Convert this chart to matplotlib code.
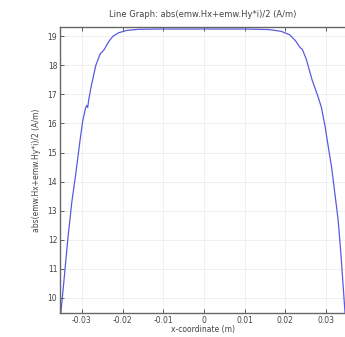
import numpy as np
import matplotlib.pyplot as plt

# curve
x_m = [-0.0352, -0.0345, -0.0335, -0.0325, -0.0315, -0.0305, -0.0298, -0.0291,
       -0.0288, -0.0286, -0.0283, -0.0277, -0.0266, -0.0255, -0.0251, -0.0245,
       -0.0235, -0.0224, -0.0210, -0.0190, -0.0160, -0.0100, 0.0, 0.0100,
       0.0160, 0.0190, 0.0211, 0.0225, 0.0236, 0.0242, 0.0252, 0.0266,
       0.0280, 0.0289, 0.0298, 0.0307, 0.0314, 0.0322, 0.0330, 0.0337,
       0.0342, 0.0347]
h_abs = [9.5, 10.5, 12.0, 13.3, 14.3, 15.4, 16.1, 16.55,
         16.62, 16.55, 16.85, 17.3, 18.0, 18.4, 18.45, 18.55,
         18.8, 19.0, 19.12, 19.2, 19.24, 19.25, 19.25, 19.25,
         19.23, 19.17, 19.05, 18.85, 18.62, 18.55, 18.2, 17.5,
         16.95, 16.55, 15.9, 15.1, 14.5, 13.6, 12.7, 11.5,
         10.5, 9.5]

xticks = [-0.03, -0.02, -0.01, 0, 0.01, 0.02, 0.03]
xtick_labels = ['-0.03', '-0.02', '-0.01', '0', '0.01', '0.02', '0.03']
yticks = [10, 11, 12, 13, 14, 15, 16, 17, 18, 19]

fig = plt.figure(figsize=(3.45, 3.37), dpi=100)
ax = fig.add_axes([0.174, 0.071, 0.826, 0.849])

ax.plot(x_m, h_abs, color='#5a5ae0', linewidth=0.9)

ax.set_xlim(-0.0354, 0.0347)
ax.set_ylim(9.48, 19.32)
ax.set_xticks(xticks)
ax.set_xticklabels(xtick_labels)
ax.set_yticks(yticks)

ax.grid(True, color='#eeeeee', linewidth=0.6)
ax.tick_params(direction='in', length=3, width=0.6, labelsize=5.5,
               colors='#444444', top=True, pad=2)
for side in ['left', 'bottom', 'top']:
    ax.spines[side].set_color('#666666')
    ax.spines[side].set_linewidth(1.0)
ax.spines['right'].set_visible(False)

ax.set_title('Line Graph: abs(emw.Hx+emw.Hy*i)/2 (A/m)', fontsize=6,
             color='#444444', pad=7)
ax.set_xlabel('x-coordinate (m)', fontsize=5.5, color='#444444', labelpad=0)
ax.set_ylabel('abs(emw.Hx+emw.Hy*i)/2 (A/m)', fontsize=5.5, color='#444444',
              labelpad=5)

fig.savefig('out.png', dpi=100)
